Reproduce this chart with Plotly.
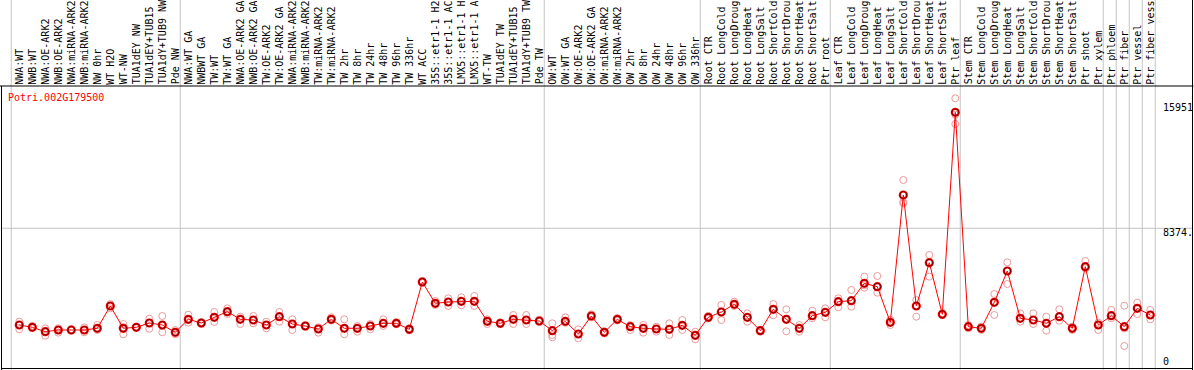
import plotly.graph_objects as go

labels = [
    "NWA:WT", "NWB:WT", "NWA:OE-ARK2", "NWB:OE-ARK2", "NWA:miRNA-ARK2", "NWB:miRNA-ARK2",
    "NW 0hr", "WT H2O", "WT-NW", "TUA1dEY NW", "TUA1dEY+TUB15", "TUA1dY+TUB9 NW", "Pde NW",
    "NWA:WT GA", "NWBWT GA", "TW:WT", "TW:WT GA", "NWA:OE-ARK2 GA", "NWB:OE-ARK2 GA",
    "TW:OE-ARK2", "TW:OE-ARK2 GA", "NWA:miRNA-ARK2", "NWB:miRNA-ARK2", "TW:miRNA-ARK2",
    "TW:miRNA-ARK2", "TW 2hr", "TW 8hr", "TW 24hr", "TW 48hr", "TW 96hr", "TW 336hr",
    "WT ACC", "35S::etr1-1 H2", "35S::etr1-1 AC", "LMX5::etr1-1 H", "LMX5::etr1-1 A",
    "WT-TW", "TUA1dEY TW", "TUA1dEY+TUB15", "TUA1dY+TUB9 TW", "Pde TW",
    "OW:WT", "OW:WT GA", "OW:OE-ARK2", "OW:OE-ARK2 GA", "OW:miRNA-ARK2", "OW:miRNA-ARK2",
    "OW 2hr", "OW 8hr", "OW 24hr", "OW 48hr", "OW 96hr", "OW 336hr",
    "Root CTR", "Root LongCold", "Root LongDroug", "Root LongHeat", "Root LongSalt",
    "Root ShortCold", "Root ShortDrou", "Root ShortHeat", "Root ShortSalt", "Ptr root",
    "Leaf CTR", "Leaf LongCold", "Leaf LongDroug", "Leaf LongHeat", "Leaf LongSalt",
    "Leaf ShortCold", "Leaf ShortDrou", "Leaf ShortHeat", "Leaf ShortSalt", "Ptr leaf",
    "Stem CTR", "Stem LongCold", "Stem LongDroug", "Stem LongHeat", "Stem LongSalt",
    "Stem ShortCold", "Stem ShortDrou", "Stem ShortHeat", "Stem ShortSalt", "Ptr shoot",
    "Ptr xylem", "Ptr phloem", "Ptr fiber", "Ptr vessel", "Ptr fiber vess",
]

means = [
    2058, 1907, 1620, 1731, 1731, 1731, 1842, 3299, 1842, 1907, 2188, 2058, 1581,
    2430, 2188, 2561, 2926, 2430, 2384, 2058, 2600, 2123, 1992, 1796, 2430, 1842, 1842,
    1992, 2169, 2169, 1777, 4866, 3475, 3560, 3606, 3606, 2299, 2169, 2430, 2384, 2319,
    1685, 2299, 1470, 2645, 1581, 2430, 1947, 1842, 1796, 1777, 2038, 1385,
    2561, 2907, 3410, 2561, 1685, 3083, 2430, 1842, 2665, 2887,
    3580, 3645, 4781, 4559, 2234, 10549, 3299, 6127, 2757, 15951,
    1947, 1842, 3540, 5585, 2495, 2384, 2169, 2600, 1842, 5866,
    2058, 2665, 1947, 3148, 2711,
]

rep_hi = [
    2273, 2000, 1842, 1842, 1780, 1907, 2058, 3429, 2123, 1950, 2469, 2645, 1731,
    2730, 2250, 2907, 3148, 2600, 2645, 2273, 2907, 2430, 2050, 1907, 2561, 2430, 1992,
    2123, 2430, 2250, 1850, 4950, 3625, 3802, 3867, 3952, 2430, 2230, 2711, 2711, 2400,
    2169, 2561, 1777, 2750, 1650, 2500, 2058, 2058, 1947, 2169, 2384, 1620,
    2650, 3364, 3580, 2822, 1750, 3429, 3083, 2058, 2992, 3148,
    3802, 4344, 5213, 5258, 2400, 11529, 3691, 6630, 2822, 16865,
    2050, 1950, 4083, 6153, 2822, 2822, 2600, 3083, 1950, 6238,
    2208, 3037, 3318, 3514, 3037,
]

rep_lo = [
    1777, 1850, 1359, 1555, 1700, 1581, 1731, 3148, 1450, 1870, 1816, 1581, 1450,
    2208, 2120, 2254, 2776, 2123, 2169, 1842, 2273, 1731, 1930, 1555, 2350, 1450, 1620,
    1777, 1992, 2100, 1700, 4800, 3364, 3299, 3344, 3299, 2123, 2110, 2123, 2123, 2250,
    1404, 2200, 1189, 2550, 1500, 2350, 1731, 1555, 1620, 1404, 1731, 1124,
    2480, 2384, 3300, 2273, 1620, 2691, 1646, 1620, 2495, 2561,
    3214, 3253, 4500, 4167, 2058, 10007, 2600, 5213, 2700, 15187,
    1842, 1731, 2711, 4736, 2273, 2123, 1685, 2338, 1731, 5761,
    1731, 2495, 686, 2776, 2430,
]

rep_mid = [
    2060, 1900, 1650, 1720, 1740, 1720, 1840, 3300, 1900, 1900, 2200, 2000, 1570,
    2400, 2190, 2550, 2900, 2450, 2380, 2060, 2620, 2150, 1990, 1810, 2420, 1850, 1850,
    2000, 2150, 2160, 1780, 4870, 3460, 3560, 3600, 3600, 2300, 2170, 2440, 2380, 2320,
    1254, 2290, 1460, 2650, 1580, 2430, 1950, 1840, 1800, 1780, 2040, 1380,
    2560, 2900, 3400, 2560, 1690, 3080, 2430, 1840, 2660, 2890,
    3580, 3640, 4650, 4560, 2240, 10100, 3300, 6100, 2760, 15800,
    1950, 1840, 3540, 5580, 2500, 2380, 2170, 2600, 1840, 5870,
    2060, 2660, 1837, 3150, 2710,
]

group_last_cols = [-1, 12, 40, 52, 62, 72, 83, 84, 85, 86, 87]
gene_id = "Potri.002G179500"
axis_ticks = [15951, 8374, 0]
axis_tick_text = ["15951", "8374.", "0"]

W, H = 1194, 370
MONO = "DejaVu Sans Mono"
idx = list(range(len(labels)))

fig = go.Figure()

for reps in (rep_hi, rep_lo, rep_mid):
    fig.add_trace(go.Scatter(
        x=idx, y=reps, mode="markers", hoverinfo="skip",
        marker=dict(symbol="circle-open", size=7, color="#ea9a9a", line=dict(width=1)),
    ))

fig.add_trace(go.Scatter(
    x=idx, y=means, mode="lines+markers",
    line=dict(color="#ff0000", width=1),
    marker=dict(symbol="circle-open", size=7, color="#ff0000", line=dict(width=2.2)),
))
fig.add_trace(go.Scatter(
    x=idx, y=means, mode="markers",
    marker=dict(symbol="circle-open", size=7, color="#5a0000", line=dict(width=0.8)),
))

shapes = []
for k in group_last_cols:
    shapes.append(dict(type="line", xref="x", yref="paper", x0=k + 0.38, x1=k + 0.38,
                       y0=0, y1=1, line=dict(color="#c4c4c4", width=1), layer="below"))
shapes.append(dict(type="line", xref="paper", yref="y", x0=1 / W, x1=1193 / W,
                   y0=axis_ticks[1], y1=axis_ticks[1], line=dict(color="#c4c4c4", width=1),
                   layer="below"))


def py(p):
    return 1 - p / H


shapes += [
    dict(type="line", xref="paper", yref="paper", x0=0, x1=1193.5 / W, y0=py(86), y1=py(86),
         line=dict(color="black", width=1)),
    dict(type="line", xref="paper", yref="paper", x0=1.5 / W, x1=1.5 / W, y0=py(86), y1=0,
         line=dict(color="black", width=1)),
    dict(type="line", xref="paper", yref="paper", x0=1192.5 / W, x1=1192.5 / W, y0=1, y1=0,
         line=dict(color="black", width=1)),
    dict(type="line", xref="paper", yref="paper", x0=1.5 / W, x1=1192.5 / W, y0=py(368.5),
         y1=py(368.5), line=dict(color="black", width=1)),
]

annotations = []
for i, lab in enumerate(labels):
    annotations.append(dict(
        x=i, xref="x", y=py(84.5), yref="paper", text=lab, textangle=-90,
        xanchor="center", yanchor="bottom", showarrow=False, borderpad=0, borderwidth=0,
        font=dict(family=MONO, size=10, color="black"),
    ))

tick_offsets = [-5, 4, 5]
for v, t, off in zip(axis_ticks, axis_tick_text, tick_offsets):
    annotations.append(dict(
        x=1162 / W, xref="paper", y=v, yref="y", yshift=-off, text=t, showarrow=False,
        xanchor="left", yanchor="middle", borderpad=0,
        font=dict(family=MONO, size=10, color="black"),
    ))

annotations.append(dict(
    x=7 / W, xref="paper", y=py(97), yref="paper", text=gene_id, showarrow=False,
    xanchor="left", yanchor="middle", borderpad=0,
    font=dict(family=MONO, size=10, color="#ff0000"),
))

x0pix = 19.3
step = 13.0
v_per_px = 1 / 0.01531
zero_px = 356.5

fig.update_layout(
    width=W, height=H, margin=dict(l=0, r=0, t=0, b=0),
    paper_bgcolor="white", plot_bgcolor="white", showlegend=False,
    xaxis=dict(range=[-x0pix / step, (W - x0pix) / step], visible=False, fixedrange=True),
    yaxis=dict(range=[(zero_px - H) * v_per_px, zero_px * v_per_px], visible=False,
               fixedrange=True),
    shapes=shapes, annotations=annotations,
)

fig.write_html("out.html", config={"displayModeBar": False},
               post_script="document.body.style.margin='0';document.body.style.overflow='hidden';")
